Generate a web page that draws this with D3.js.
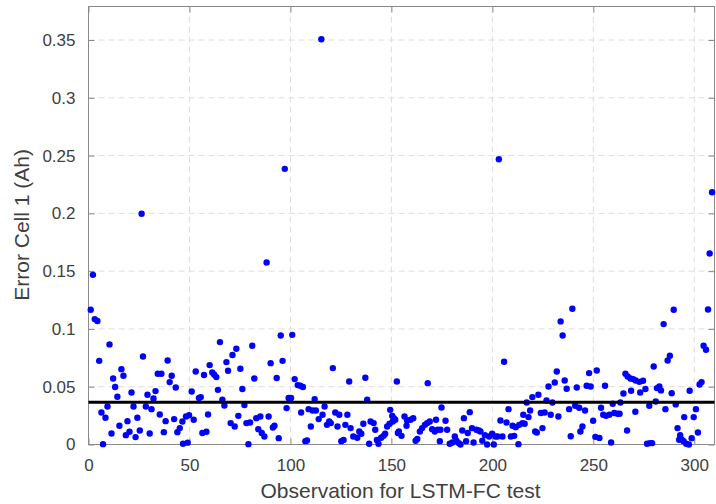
<!DOCTYPE html>
<html lang="en">
  <head>
    <meta charset="utf-8">
    <title>Error Cell 1</title>
    <style>
      body { margin: 0; background: #fff; }
      text { font-family: "Liberation Sans", Arial, sans-serif; fill: #404040; }
      .grid line { stroke: #dedede; stroke-dasharray: 6,4; stroke-width: 1; }
      .frame { fill: none; stroke: #8a8a8a; stroke-width: 1; }
    </style>
  </head>
  <body>
    <div id="chart"></div>
    <script src="https://d3js.org/d3.v7.min.js"></script>
    <script>
    // observation index (x) and error in Ah (y)
    var obs = [
      1.1, 2.2, 3.1, 4.4, 5.3, 6.4, 7.2, 8.4, 9.4, 10.4, 11.4, 12.2, 13.2, 14.3, 15.3, 16.3, 17.3, 18.5, 19.3, 20.3,
      21.3, 22.3, 23.3, 24.2, 25.4, 26.3, 27.0, 28.4, 29.2, 30.3, 31.2, 32.2, 33.2, 34.3, 35.3, 36.1, 37.3, 38.2, 39.2, 40.2,
      41.2, 42.4, 43.2, 44.0, 45.2, 46.5, 46.8, 48.3, 49.1, 49.8,
      51.1, 52.1, 53.1, 54.7, 55.6, 56.4, 57.2, 58.4, 59.2, 60.0, 61.3, 62.3, 63.3, 64.1, 65.1, 66.3, 67.3, 68.3, 69.1, 70.4,
      71.3, 72.4, 73.2, 74.2, 75.2, 76.2, 77.2, 78.2, 79.2, 80.0, 81.1, 82.1, 83.1, 84.1, 85.1, 85.8, 87.1, 88.2, 89.2, 90.2,
      91.3, 92.1, 93.2, 94.2, 95.2, 96.1, 97.2, 98.1, 99.1, 100.3, 100.9,
      102.1, 103.6, 104.9, 106.2, 105.3, 107.4, 108.2, 109.0, 110.1, 111.0, 112.0, 112.6, 114.0, 115.3, 115.9, 116.9, 118.1, 119.2, 120.0, 121.0,
      122.2, 123.3, 124.2, 125.2, 126.3, 127.2, 128.2, 129.1, 129.8, 131.1, 133.1, 134.1, 135.1, 136.1, 137.1, 138.0, 139.0, 139.7, 141.2, 142.0,
      142.8, 143.6, 144.9, 146.1, 146.9, 147.9, 149.1, 149.4, 150.7, 150.4, 151.9, 151.2, 152.7, 153.2,
      153.7, 155.0, 156.5, 157.5, 157.8, 159.5, 160.8, 162.0, 162.8, 164.1, 165.2, 166.6, 167.7, 168.0, 169.0, 170.2, 171.5, 172.1, 172.9, 174.0,
      174.3, 174.8, 176.8, 177.6, 178.9, 180.2, 181.4, 182.2, 183.4, 184.2, 185.1, 185.9, 187.0, 187.8, 188.8, 189.9, 190.7, 192.1, 193.3, 194.1,
      195.0, 196.3, 197.4, 198.4, 199.9, 200.7, 201.5, 202.6,
      203.2, 204.0, 205.0, 205.8, 207.0, 208.0, 209.1, 210.0, 210.8, 211.6, 212.9, 213.3, 214.9, 215.3, 216.0, 217.0, 217.9, 218.7, 219.8, 221.2,
      222.0, 222.8, 224.0, 224.8, 225.9, 226.8, 227.8, 228.9, 229.7, 230.9, 231.9, 232.7, 233.8, 234.8, 235.8, 236.8, 238.0, 238.8, 239.6, 241.0,
      241.8, 243.0, 243.6, 244.6, 245.9, 246.7, 247.9, 248.7, 249.9, 251.0, 251.7, 253.0,
      253.8, 254.9, 255.8, 256.3, 257.9, 258.8, 259.6, 260.4, 262.0, 263.0, 263.4, 264.9, 265.9, 266.7, 267.0, 268.4, 268.7, 269.7, 270.8, 271.0,
      272.8, 273.2, 274.6, 275.8, 276.6, 277.7, 278.1, 279.1, 279.9, 280.9, 281.5, 282.7, 283.5, 284.8, 285.7, 286.8, 287.9, 288.8, 289.8, 290.8,
      291.7, 292.5, 293.0, 293.7, 294.7, 295.0, 296.0, 297.3, 297.7, 298.7, 299.7, 300.8, 301.8, 302.6, 303.6, 304.6, 305.8, 306.8, 307.6, 308.8
    ];
    var err = [
      0.1166, 0.1468, 0.1085, 0.1068, 0.0724, 0.0277, 0.0003, 0.0231, 0.0329, 0.0866, 0.0095, 0.0571, 0.0497, 0.0413, 0.0162, 0.0652, 0.0595, 0.0081, 0.0202, 0.0110,
      0.0450, 0.0329, 0.0064, 0.0231, 0.0121, 0.1997, 0.0762, 0.0329, 0.0430, 0.0095, 0.0306, 0.0398, 0.0462, 0.0612, 0.0260, 0.0612, 0.0107, 0.0202, 0.0727, 0.0540,
      0.0595, 0.0220, 0.0493, 0.0107, 0.0142, 0.0199, 0.0007, 0.0242, 0.0016, 0.0254,
      0.0459, 0.0214, 0.0632, 0.0402, 0.0410, 0.0099, 0.0601, 0.0110, 0.0260, 0.0687, 0.0623, 0.0603, 0.0583, 0.0473, 0.0886, 0.0387, 0.0338, 0.0713, 0.0638, 0.0185,
      0.0774, 0.0156, 0.0828, 0.0248, 0.0655, 0.0480, 0.0341, 0.0185, 0.0003, 0.0190, 0.0854, 0.0571, 0.0228, 0.0133, 0.0242, 0.0099, 0.0069, 0.1575, 0.0242, 0.0704,
      0.0147, 0.0162, 0.0575, 0.0055, 0.0943, 0.0724, 0.2385, 0.0315, 0.0402, 0.0402, 0.0949,
      0.0566, 0.0514, 0.0508, 0.0497, 0.0277, 0.0029, 0.0035, 0.0306, 0.0156, 0.0294, 0.0393, 0.0294, 0.0220, 0.3506, 0.0257, 0.0329, 0.0170, 0.0199, 0.0185, 0.0661,
      0.0277, 0.0156, 0.0257, 0.0029, 0.0040, 0.0170, 0.0257, 0.0545, 0.0142, 0.0069, 0.0058, 0.0113, 0.0093, 0.0179, 0.0577, 0.0387, 0.0006, 0.0199, 0.0185, 0.0127,
      0.0040, 0.0006, 0.0058, 0.0075, 0.0093, 0.0156, 0.0179, 0.0300, 0.0199, 0.0248, 0.0214, 0.0228, 0.0545, 0.0099,
      0.0113, 0.0075, 0.0242, 0.0162, 0.0208, 0.0214, 0.0228, 0.0033, 0.0047, 0.0113, 0.0142, 0.0170, 0.0185, 0.0531, 0.0199, 0.0133, 0.0113, 0.0214, 0.0127, 0.0029,
      0.0127, 0.0320, 0.0205, 0.0127, 0.0006, 0.0017, 0.0069, 0.0033, 0.0012, 0.0000, 0.0121, 0.0228, 0.0029, 0.0099, 0.0280, 0.0142, 0.0017, 0.0127, 0.0121, 0.0113,
      0.0033, 0.0081, 0.0000, 0.0069, 0.0093, 0.0000, 0.0069, 0.0069,
      0.2468, 0.0208, 0.0069, 0.0716, 0.0190, 0.0306, 0.0069, 0.0162, 0.0075, 0.0150, 0.0003, 0.0170, 0.0185, 0.0257, 0.0179, 0.0364, 0.0237, 0.0294, 0.0410, 0.0113,
      0.0104, 0.0430, 0.0272, 0.0142, 0.0277, 0.0381, 0.0502, 0.0257, 0.0364, 0.0537, 0.0632, 0.0242, 0.1065, 0.0943, 0.0554, 0.0482, 0.0306, 0.0072, 0.1174, 0.0335,
      0.0493, 0.0318, 0.0113, 0.0156, 0.0294, 0.0508, 0.0618, 0.0502, 0.0205, 0.0066, 0.0640, 0.0057,
      0.0318, 0.0257, 0.0508, 0.0248, 0.0257, 0.0017, 0.0352, 0.0272, 0.0266, 0.0266, 0.0364, 0.0441, 0.0612, 0.0121, 0.0589, 0.0571, 0.0465, 0.0566, 0.0283, 0.0554,
      0.0542, 0.0450, 0.0552, 0.0480, 0.0006, 0.0335, 0.0012, 0.0012, 0.0675, 0.0372, 0.0488, 0.0502, 0.0468, 0.1042, 0.0306, 0.0727, 0.0768, 0.0444, 0.1166, 0.0347,
      0.0142, 0.0041, 0.0081, 0.0044, 0.0029, 0.0237, 0.0006, 0.0000, 0.0465, 0.0055, 0.0237, 0.0306, 0.0104, 0.0519, 0.0540, 0.0854, 0.0820, 0.1168, 0.1653, 0.2183
    ];
    var meanErr = 0.0365;
    var xTicks = [0, 50, 100, 150, 200, 250, 300];
    var yTicks = [0, 0.05, 0.1, 0.15, 0.2, 0.25, 0.3, 0.35];

    var width = 716, height = 504;
    var margin = {top: 6.5, right: 1.5, bottom: 59.5, left: 88.5};
    var iw = width - margin.left - margin.right, ih = height - margin.top - margin.bottom;

    var svg = d3.select("#chart").append("svg")
        .attr("width", width)
        .attr("height", height);

    var g = svg.append("g").attr("transform", "translate(" + margin.left + "," + margin.top + ")");

    var x = d3.scaleLinear().domain([0, 310]).range([0, iw]);
    var y = d3.scaleLinear().domain([0, 0.379]).range([ih, 0]);

    // dashed grid
    var grid = g.append("g").attr("class", "grid");
    grid.selectAll(".gx").data(xTicks.slice(1)).enter().append("line")
        .attr("x1", function(d){ return x(d); }).attr("x2", function(d){ return x(d); })
        .attr("y1", 0).attr("y2", ih);
    grid.selectAll(".gy").data(yTicks.slice(1)).enter().append("line")
        .attr("x1", 0).attr("x2", iw)
        .attr("y1", function(d){ return y(d); }).attr("y2", function(d){ return y(d); });

    // axes, ticks pointing inward, box on
    var fmt = function(d){ return d === 0 ? "0" : String(+d.toFixed(2)); };
    var xAxis = g.append("g").attr("transform", "translate(0," + ih + ")")
        .call(d3.axisBottom(x).tickValues(xTicks).tickSizeInner(-6).tickSizeOuter(0).tickPadding(14).tickFormat(fmt));
    var yAxis = g.append("g")
        .call(d3.axisLeft(y).tickValues(yTicks).tickSizeInner(-6).tickSizeOuter(0).tickPadding(13).tickFormat(fmt));
    var xTop = g.append("g")
        .call(d3.axisTop(x).tickValues(xTicks).tickSizeInner(-6).tickSizeOuter(0).tickFormat(""));
    var yRight = g.append("g").attr("transform", "translate(" + iw + ",0)")
        .call(d3.axisRight(y).tickValues(yTicks).tickSizeInner(-6).tickSizeOuter(0).tickFormat(""));

    [xAxis, yAxis, xTop, yRight].forEach(function(a){
      a.select(".domain").remove();
      a.selectAll(".tick line").attr("stroke", "#8a8a8a");
      a.selectAll(".tick text").attr("font-size", 17).attr("fill", "#404040")
        .style("font-family", "'Liberation Sans', Arial, sans-serif");
    });

    g.append("rect").attr("class", "frame")
        .attr("x", 0).attr("y", 0).attr("width", iw).attr("height", ih);

    // points
    g.append("g").selectAll("circle")
        .data(obs)
        .enter().append("circle")
          .attr("cx", function(d){ return x(d); })
          .attr("cy", function(d, i){ return y(err[i]); })
          .attr("r", 3.2)
          .attr("fill", "#0000ff");

    // mean line
    g.append("line")
        .attr("x1", 0).attr("x2", iw)
        .attr("y1", y(meanErr)).attr("y2", y(meanErr))
        .attr("stroke", "#000").attr("stroke-width", 3);

    // labels
    svg.append("text")
        .attr("x", margin.left + iw / 2 - 1)
        .attr("y", 498)
        .attr("text-anchor", "middle")
        .attr("font-size", 21)
        .text("Observation for LSTM-FC test");

    svg.append("text")
        .attr("transform", "translate(29," + (margin.top + y(0.19)) + ") rotate(-90)")
        .attr("text-anchor", "middle")
        .attr("font-size", 21)
        .text("Error Cell 1 (Ah)");
    </script>
  </body>
</html>
